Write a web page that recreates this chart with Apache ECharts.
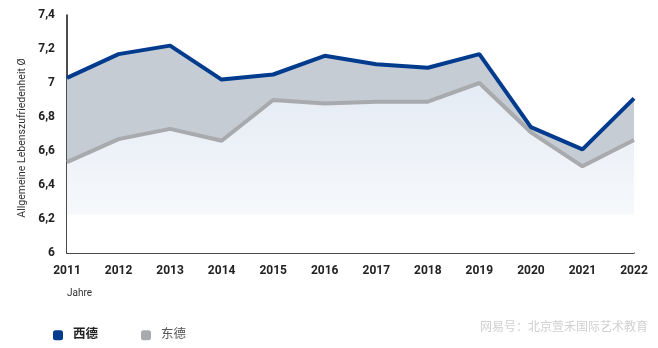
<!DOCTYPE html>
<html>
<head>
<meta charset="utf-8">
<script src="https://cdn.jsdelivr.net/npm/echarts@6/dist/echarts.min.js"></script>
<style>html,body{margin:0;padding:0;background:#fff}#c{width:658px;height:348px}</style>
</head>
<body>
<div id="c"></div>
<script>
var years = ['2011','2012','2013','2014','2015','2016','2017','2018','2019','2020','2021','2022'];
var west = [7.03, 7.17, 7.22, 7.02, 7.05, 7.16, 7.11, 7.09, 7.17, 6.74, 6.61, 6.91];
var east = [6.535, 6.67, 6.73, 6.66, 6.90, 6.88, 6.89, 6.89, 7.00, 6.71, 6.51, 6.665];
var seriesNames = ['西德', '东德'];
var yAxisTitle = 'Allgemeine Lebenszufriedenheit Ø';
var xAxisTitle = 'Jahre';
var watermark = '网易号：北京萱禾国际艺术教育';

var chart = echarts.init(document.getElementById('c'));
var font = 'Roboto, "Noto Sans CJK SC", sans-serif';
chart.setOption({
  animation: false,
  textStyle: {fontFamily: font},
  grid: {left: 67, right: 24, top: 15, bottom: 95},
  xAxis: {
    type: 'category', data: years, boundaryGap: false,
    axisLine: {lineStyle: {color: '#111', width: 1.5}},
    axisTick: {show: false},
    axisLabel: {color: '#222', fontWeight: 'bold', fontSize: 12, margin: 12, fontFamily: font},
    splitLine: {show: false}
  },
  yAxis: {
    type: 'value', min: 6, max: 7.4, interval: 0.2,
    axisLine: {show: true, lineStyle: {color: '#111', width: 1.5}},
    axisTick: {show: false},
    splitLine: {show: false},
    axisLabel: {color: '#222', fontWeight: 'bold', fontSize: 12, margin: 12, fontFamily: font,
      formatter: function(v){ return String(Number(v.toFixed(1))).replace('.', ','); }}
  },
  legend: {
    data: seriesNames, left: 48, top: 324, icon: 'roundRect', itemWidth: 10, itemHeight: 10,
    itemGap: 43,
    formatter: function(n){ return n === seriesNames[0] ? '{a|' + n + '}' : '{b|' + n + '}'; },
    textStyle: {fontSize: 12.5, color: '#222', fontFamily: font, padding: [0, 0, 0, 5],
      rich: {a: {fontSize: 12.5, color: '#222', fontWeight: 'bold', fontFamily: font},
             b: {fontSize: 12.5, color: '#555', fontFamily: font}}}
  },
  graphic: [
    {type: 'text', x: 22, y: 138, rotation: Math.PI / 2,
      style: {text: yAxisTitle, fontSize: 10.5, fill: '#333', fontFamily: font, align: 'center', verticalAlign: 'middle'}},
    {type: 'text', left: 67, top: 288, style: {text: xAxisTitle, fontSize: 10, fill: '#333', fontFamily: font}},
    {type: 'text', right: 10, top: 322, style: {text: watermark, fontSize: 12, fill: '#d0d0d0', fontFamily: font}}
  ],
  series: [
    {type: 'line', data: west, symbol: 'none', lineStyle: {width: 0}, z: 1, silent: true,
      areaStyle: {color: '#c5ccd4', opacity: 1}},
    {type: 'line', data: east, symbol: 'none', lineStyle: {width: 0}, z: 2, silent: true,
      areaStyle: {opacity: 1, color: new echarts.graphic.LinearGradient(0, 0, 0, 1, [
        {offset: 0, color: '#e4ebf4'}, {offset: 0.77, color: '#f6f8fb'}, {offset: 0.78, color: '#ffffff'}, {offset: 1, color: '#ffffff'}])}},
    {name: seriesNames[1], type: 'line', data: east, symbol: 'none', z: 3,
      lineStyle: {color: '#a8aaad', width: 4}, itemStyle: {color: '#a8aaad'}},
    {name: seriesNames[0], type: 'line', data: west, symbol: 'none', z: 4,
      lineStyle: {color: '#003b8e', width: 4}, itemStyle: {color: '#003b8e'}}
  ]
});
</script>
</body>
</html>
